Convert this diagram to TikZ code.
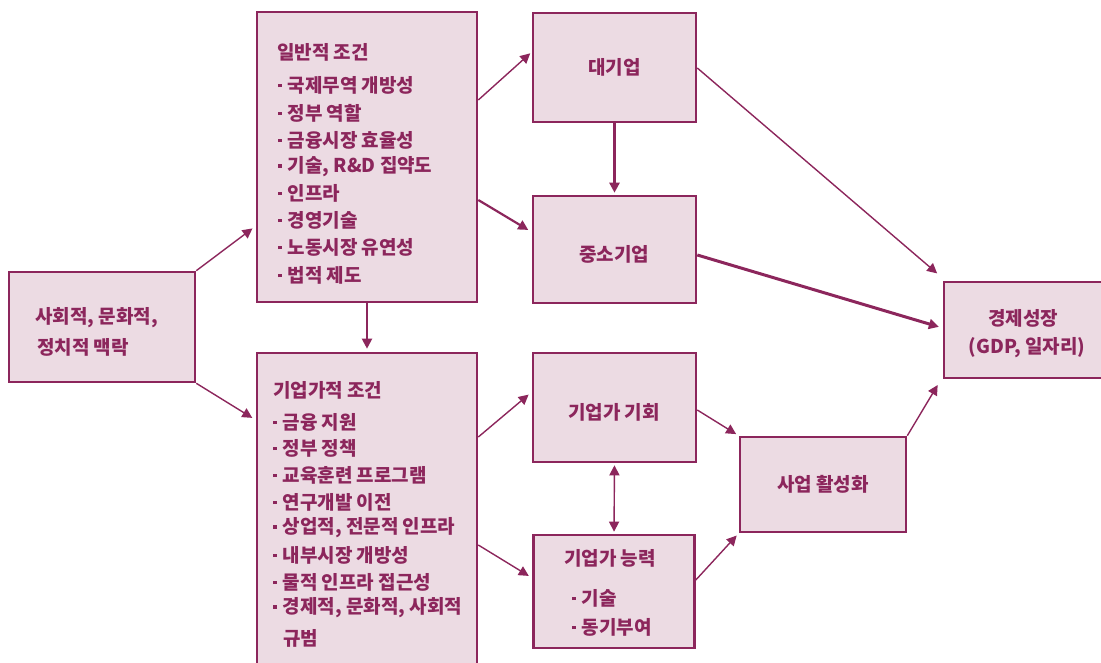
\documentclass[tikz,border=0pt]{standalone}
\usepackage{fontspec}
\setmainfont{Noto Sans CJK KR}
\usetikzlibrary{arrows.meta,calc}
\definecolor{mg}{RGB}{140,38,92}
\definecolor{bx}{RGB}{236,219,227}
\newcommand{\bl}{\rule[5pt]{3.5pt}{3.5pt}\hspace{6pt}}
\begin{document}
\begin{tikzpicture}[x=1pt,y=-1pt,
  box/.style={draw=mg, line width=2.6pt, fill=bx, inner sep=0pt, text=mg,
    font=\bfseries\fontsize{19}{30}\selectfont, align=center},
  txt/.style={text=mg, inner sep=0pt, anchor=west, font=\bfseries\fontsize{19}{22}\selectfont},
  arr/.style={draw=mg, line width=1.4pt, -{Triangle[length=10pt,width=10pt]}, shorten >=4pt},
  thk/.style={arr, line width=3pt}]
\useasboundingbox (0,0) rectangle (1101,662);
\clip (0,0) rectangle (1101,662);
% boxes
\node[box, minimum width=186pt, minimum height=110pt] (ctx) at (102,327) {};
\node[box, minimum width=220pt, minimum height=290pt] (gen) at (367,157) {};
\node[box, minimum width=220pt, minimum height=347pt] (ent) at (367,526.5) {};
\node[box, minimum width=163pt, minimum height=109pt] (big) at (614.5,67.5) {대기업};
\node[box, minimum width=163pt, minimum height=107pt] (sme) at (614.5,249.5) {};
\node[box, minimum width=163pt, minimum height=109pt] (opp) at (614.5,407.5) {};
\node[box, minimum width=161pt, minimum height=113pt] (cap) at (614,591.5) {};
\node[box, minimum width=166pt, minimum height=95pt] (biz) at (823,484.5) {사업 활성화};
\node[box, minimum width=160pt, minimum height=96pt] (eco) at (1024,330) {};
% texts
\node[txt, anchor=center] (smet) at (614,254) {중소기업};
\node[txt, anchor=center] (oppt) at (614,412) {기업가 기회};
\node[txt, anchor=center] (ecoa) at (1023,318) {경제성장};
\node[txt, anchor=center] (ecob) at (1027,348) {(GDP, 일자리)};
\node[txt] (ctxa) at (35,318) {사회적, 문화적,};
\node[txt] (ctxb) at (37,347) {정치적 맥락};
\node[txt] (g0) at (277,52) {일반적 조건};
\node[txt] (g1) at (278,85) {\bl 국제무역 개방성};
\node[txt] (g2) at (278,113) {\bl 정부 역할};
\node[txt] (g3) at (278,140) {\bl 금융시장 효율성};
\node[txt] (g4) at (278,167) {\bl 기술, R\&D 집약도};
\node[txt] (g5) at (278,193) {\bl 인프라};
\node[txt] (g6) at (278,220) {\bl 경영기술};
\node[txt] (g7) at (278,247) {\bl 노동시장 유연성};
\node[txt] (g8) at (278,275) {\bl 법적 제도};
\node[txt] (e0) at (273,390) {기업가적 조건};
\node[txt] (e1) at (273,422) {\bl 금융 지원};
\node[txt] (e2) at (273,448) {\bl 정부 정책};
\node[txt] (e3) at (273,475) {\bl 교육훈련 프로그램};
\node[txt] (e4) at (273,502) {\bl 연구개발 이전};
\node[txt] (e5) at (273,528) {\bl 상업적, 전문적 인프라};
\node[txt] (e6) at (273,555) {\bl 내부시장 개방성};
\node[txt] (e7) at (273,582) {\bl 물적 인프라 접근성};
\node[txt] (e8) at (273,608) {\bl 경제적, 문화적, 사회적};
\node[txt] (e9) at (283,638) {규범};
\node[txt, anchor=center] (ct) at (610,558) {기업가 능력};
\node[txt] (c1) at (572,598) {\bl 기술};
\node[txt] (c2) at (572,627) {\bl 동기부여};
% connectors
\draw[arr] (ctx.north east) -- ([yshift=-69pt]gen.west);
\draw[arr] (ctx.south east) -- ([yshift=106.5pt]ent.west);
\draw[arr, line width=2pt, shorten >=3pt] (gen.south) -- (ent.north);
\draw[arr, shorten >=2pt] ([yshift=57pt]gen.east) -- ([yshift=15.5pt]big.west);
\draw[arr, line width=2.2pt] ([yshift=-43pt]gen.east) -- ([yshift=17.5pt]sme.west);
\draw[thk, shorten >=2pt] (big.south) -- (sme.north);
\draw[arr, shorten >=2pt] ([yshift=-0.5pt]big.east) -- ([xshift=-4pt,yshift=6pt]eco.north west);
\draw[thk] ([yshift=-5.5pt]sme.east) -- ([yshift=2pt]eco.west);
\draw[arr] ([yshift=89.5pt]ent.east) -- ([yshift=15.5pt]opp.west);
\draw[arr] ([yshift=-18.5pt]ent.east) -- ([yshift=13.5pt]cap.west);
\draw[draw=mg, line width=1.4pt, {Triangle[length=10pt,width=10pt]}-{Triangle[length=10pt,width=10pt]}, shorten >=2pt, shorten <=2pt] (opp.south) -- (cap.north);
\draw[arr, shorten >=3pt] ([yshift=-2.5pt]opp.east) -- (biz.north west);
\draw[arr, shorten >=3pt] ([yshift=11.5pt]cap.east) -- (biz.south west);
\draw[arr, shorten >=2pt] (biz.north east) -- ([xshift=-4pt,yshift=-4pt]eco.south west);
\end{tikzpicture}
\end{document}
